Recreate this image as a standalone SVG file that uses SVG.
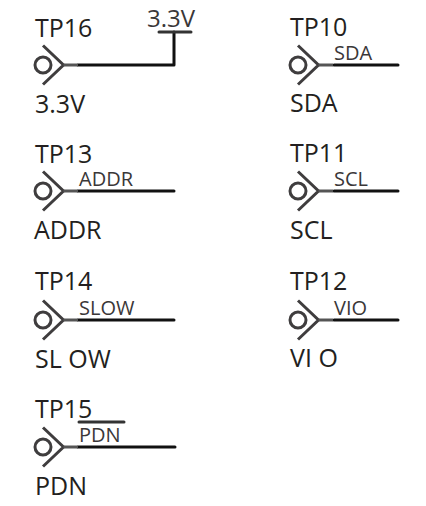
<svg xmlns="http://www.w3.org/2000/svg" width="426" height="506" viewBox="0 0 426 506">
<style>
text{font-family:"Open Sans","Noto Sans","Liberation Sans",sans-serif;fill:#231f20}
.big{font-size:25px}
.small{font-size:20px;fill:#3a3738}
.sym{fill:none;stroke:#3f3d3e;stroke-width:3}
.stem{fill:none;stroke:#555;stroke-width:3}
.wire{fill:none;stroke:#111;stroke-width:3;stroke-linecap:round;stroke-linejoin:round}
.bar{fill:none;stroke:#333;stroke-width:3;stroke-linecap:round}
</style>
<defs>
<g id="tp"><circle class="sym" cx="0" cy="0" r="8"/><path class="sym" d="M0-19.500L20.500 0L0 19.500"/><path class="stem" d="M20.500 0H35"/></g>
</defs>
<g id="connectors">
<path class="wire" d="M78 65H174V32"/>
<path class="bar" d="M159 32H191"/>
<path class="wire" d="M78 191H174"/>
<path class="wire" d="M78 320H174"/>
<path class="wire" d="M78 447H175"/>
<path class="bar" d="M79 422H124"/>
<path class="wire" d="M334 65H398"/>
<path class="wire" d="M334 191H398"/>
<path class="wire" d="M334 320H398"/>
</g>
<g id="TP16"><use href="#tp" x="43" y="65"/><text class="big" x="35" y="37">TP16</text><text class="big" x="35" y="113">3.3V</text><text class="small" x="147" y="27" style="font-size:24px">3.3V</text></g>
<g id="TP13"><use href="#tp" x="43" y="191"/><text class="big" x="35" y="163">TP13</text><text class="big" x="34" y="239">ADDR</text><text class="small" x="79" y="186">ADDR</text></g>
<g id="TP14"><use href="#tp" x="43" y="320"/><text class="big" x="35" y="290">TP14</text><text class="big" x="35" y="368">SL OW</text><text class="small" x="79" y="315">SLOW</text></g>
<g id="TP15"><use href="#tp" x="43" y="447"/><text class="big" x="35" y="418">TP15</text><text class="big" x="35" y="495">PDN</text><text class="small" x="79" y="442">PDN</text></g>
<g id="TP10"><use href="#tp" x="298" y="65"/><text class="big" x="290" y="36">TP10</text><text class="big" x="290" y="112">SDA</text><text class="small" x="334" y="60">SDA</text></g>
<g id="TP11"><use href="#tp" x="298" y="191"/><text class="big" x="290" y="162">TP11</text><text class="big" x="290" y="239">SCL</text><text class="small" x="334" y="186">SCL</text></g>
<g id="TP12"><use href="#tp" x="298" y="320"/><text class="big" x="290" y="290">TP12</text><text class="big" x="290" y="367">VI O</text><text class="small" x="334" y="315">VIO</text></g>
</svg>
